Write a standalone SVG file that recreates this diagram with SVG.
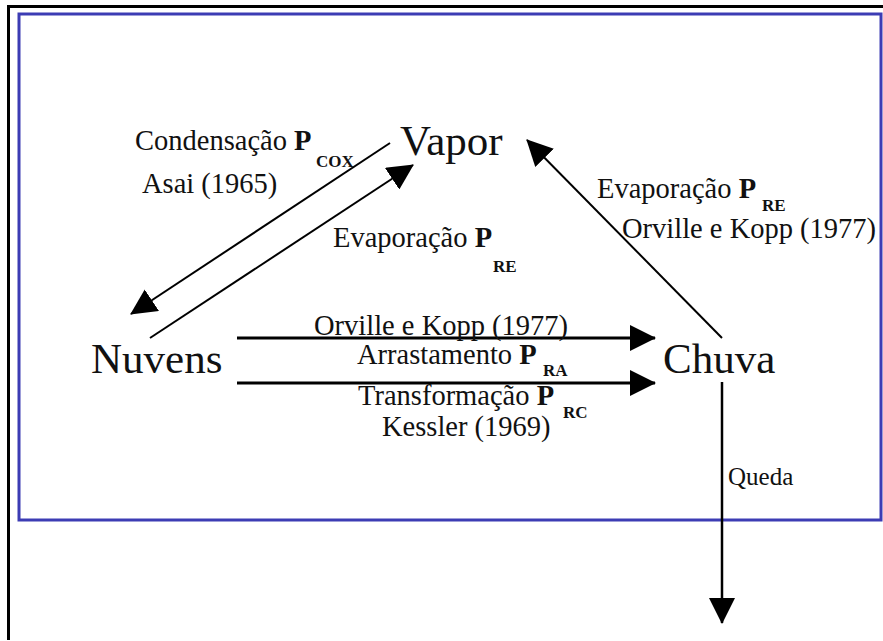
<svg xmlns="http://www.w3.org/2000/svg" width="883" height="641" viewBox="0 0 883 641">
<style>
.t{font-family:"Liberation Serif","DejaVu Serif","Times New Roman",serif;fill:#111}
.big{font-size:43px}
.lbl{font-size:28.5px}
.sub{font-size:17px;font-weight:bold}
.b{font-weight:bold}
.ln{stroke:#000;fill:none}
</style>
<defs>
<marker id="ah" markerWidth="26" markerHeight="26" viewBox="0 0 26 26" refX="25" refY="13" orient="auto" markerUnits="userSpaceOnUse">
<path d="M0,0 L26,13 L0,26 Z" fill="#000"/>
</marker>
</defs>
<rect x="0" y="0" width="883" height="641" fill="#fff"/>
<g id="frame">
<path d="M8.5,640 V6.5 H883" stroke="#000" stroke-width="3" fill="none"/>
<rect x="19" y="14" width="862" height="506" fill="none" stroke="#3c3cb4" stroke-width="3"/>
</g>
<g id="connectors">
<line class="ln" x1="390" y1="143" x2="131" y2="314" stroke-width="2" marker-end="url(#ah)"/>
<line class="ln" x1="150" y1="338" x2="413" y2="165" stroke-width="2" marker-end="url(#ah)"/>
<line class="ln" x1="722" y1="338" x2="527" y2="140" stroke-width="2" marker-end="url(#ah)"/>
<line class="ln" x1="237" y1="338" x2="655" y2="338" stroke-width="3" marker-end="url(#ah)"/>
<line class="ln" x1="237" y1="383" x2="655" y2="383" stroke-width="3" marker-end="url(#ah)"/>
<line class="ln" x1="722" y1="382" x2="722" y2="623" stroke-width="2.5" marker-end="url(#ah)"/>
</g>
<g font-family="Liberation Serif, DejaVu Serif, serif">
<g id="vapor"><text class="t big" x="400" y="155">Vapor</text></g>
<g id="nuvens"><text class="t big" x="91" y="373">Nuvens</text></g>
<g id="chuva"><text class="t big" x="663" y="373">Chuva</text></g>
<g id="labels">
<text class="t lbl" x="135" y="150">Condensação <tspan class="b">P</tspan></text>
<text class="t sub" x="316" y="167">COX</text>
<text class="t lbl" x="142" y="193">Asai (1965)</text>
<text class="t lbl" x="333" y="247">Evaporação <tspan class="b">P</tspan></text>
<text class="t sub" x="493" y="272">RE</text>
<text class="t lbl" x="597" y="198">Evaporação <tspan class="b">P</tspan></text>
<text class="t sub" x="762" y="211">RE</text>
<text class="t lbl" x="622" y="238">Orville e Kopp (1977)</text>
<text class="t lbl" x="314" y="335">Orville e Kopp (1977)</text>
<text class="t lbl" x="357" y="364">Arrastamento <tspan class="b">P</tspan></text>
<text class="t sub" x="543" y="376">RA</text>
<text class="t lbl" x="358" y="405">Transformação <tspan class="b">P</tspan></text>
<text class="t sub" x="563" y="418">RC</text>
<text class="t lbl" x="382" y="436">Kessler (1969)</text>
<text class="t" x="728" y="485" style="font-size:25px">Queda</text>
</g>
</g>
</svg>
